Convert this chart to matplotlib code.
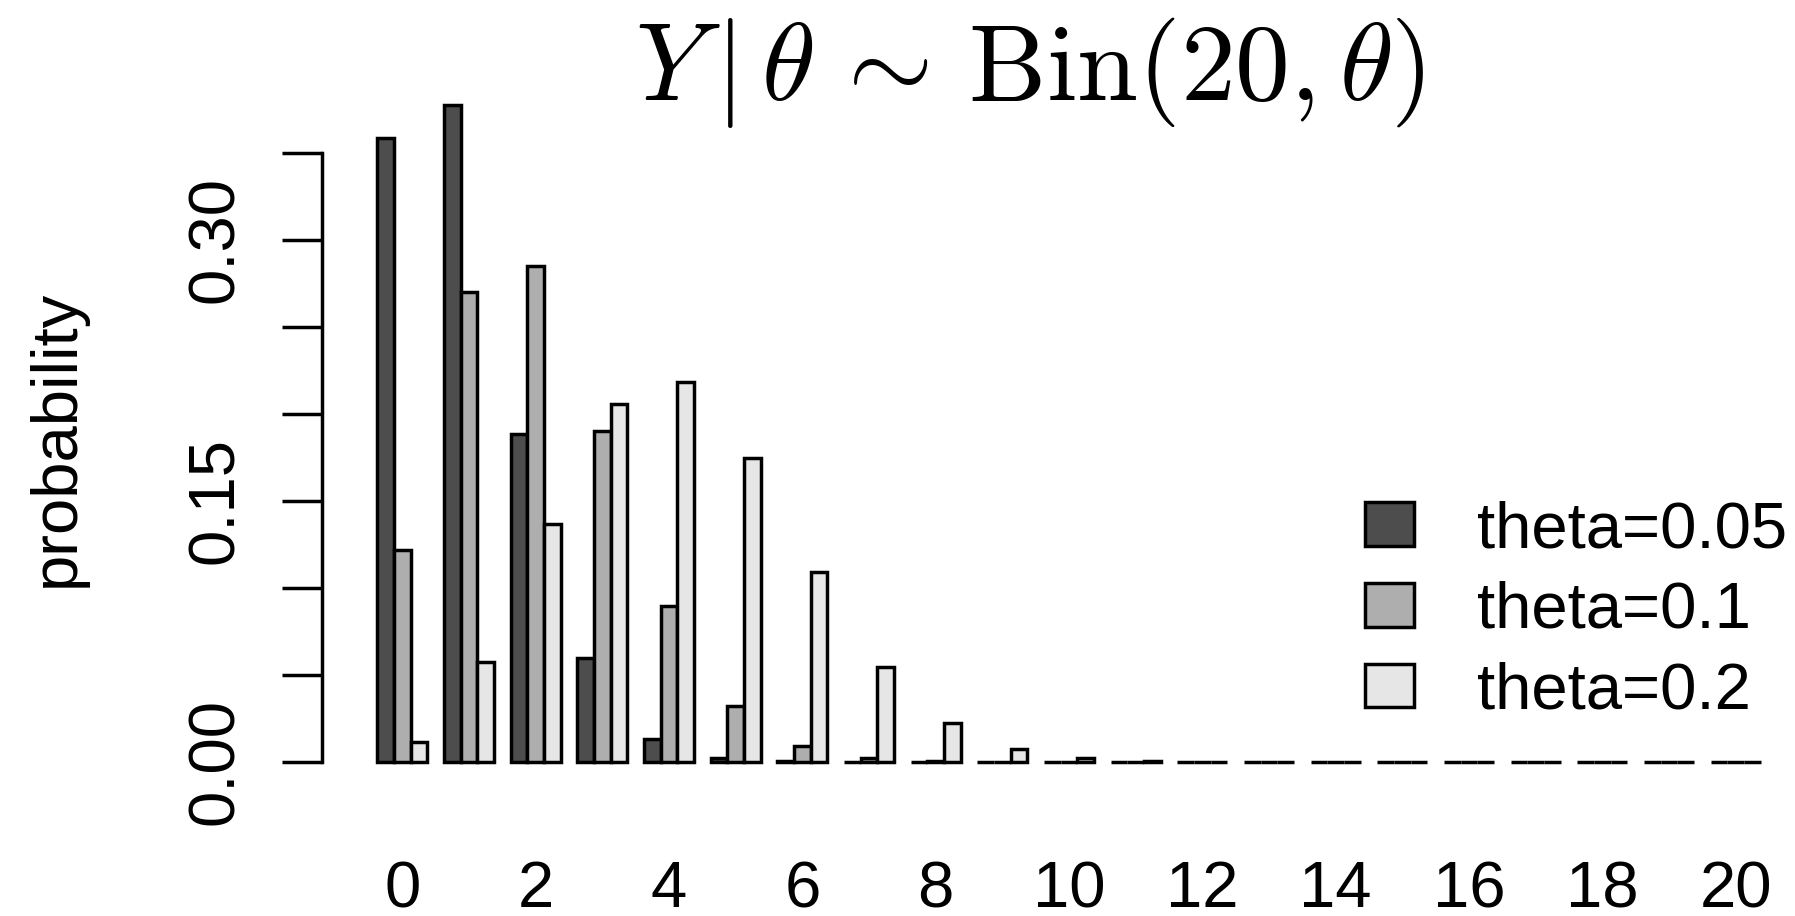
import matplotlib.pyplot as plt
from matplotlib.patches import Patch

plt.rcParams['font.family'] = ['Liberation Sans', 'DejaVu Sans']
plt.rcParams['mathtext.fontset'] = 'cm'

# P(Y = y | theta) for y = 0..20
y_values = list(range(21))
series_labels = ["theta=0.05", "theta=0.1", "theta=0.2"]
prob_005 = [0.3585, 0.3774, 0.1887, 0.0596, 0.0133, 0.0022, 0.0003, 0.0, 0.0, 0.0,
            0.0, 0.0, 0.0, 0.0, 0.0, 0.0, 0.0, 0.0, 0.0, 0.0, 0.0]
prob_01 = [0.1216, 0.2702, 0.2852, 0.1901, 0.0898, 0.0319, 0.0089, 0.0020, 0.0004, 0.0001,
           0.0, 0.0, 0.0, 0.0, 0.0, 0.0, 0.0, 0.0, 0.0, 0.0, 0.0]
prob_02 = [0.0115, 0.0576, 0.1369, 0.2054, 0.2182, 0.1746, 0.1091, 0.0545, 0.0222, 0.0074,
           0.0020, 0.0005, 0.0001, 0.0, 0.0, 0.0, 0.0, 0.0, 0.0, 0.0, 0.0]
bar_colors = ["#4D4D4D", "#AEAEAE", "#E6E6E6"]

y_ticks = [0.0, 0.05, 0.10, 0.15, 0.20, 0.25, 0.30, 0.35]
y_tick_labels = ["0.00", "", "", "0.15", "", "", "0.30", ""]
x_label_every = 2

FS = 47
LW = 2.5
W, H = 1795, 916

fig = plt.figure(figsize=(W / 100, H / 100), dpi=100)
# barplot(beside=TRUE) layout: bars of width 1, one empty unit between groups
ax = fig.add_axes([322 / W, 128 / H, (1816 - 322) / W, (788 - 79) / H])

series = [prob_005, prob_01, prob_02]
n_series = len(series)
group_left = [1 + (n_series + 1) * i for i in range(len(y_values))]
for k, (vals, col, lab) in enumerate(zip(series, bar_colors, series_labels)):
    xs = [g + k + 0.5 for g in group_left]
    ax.bar(xs, vals, width=1.0, color=col, edgecolor="black", linewidth=LW,
           label=lab, clip_on=False)

# R-style 4% padding of the data range
x_lo, x_hi = group_left[0], group_left[-1] + n_series
pad_x = 0.04 * (x_hi - x_lo)
ax.set_xlim(x_lo - pad_x, x_hi + pad_x)
y_max = max(max(s) for s in series)
ax.set_ylim(-0.04 * y_max, 1.04 * y_max)

for side in ["top", "right", "bottom"]:
    ax.spines[side].set_visible(False)
ax.spines["left"].set_linewidth(LW)
ax.spines["left"].set_bounds(y_ticks[0], y_ticks[-1])

ax.set_yticks(y_ticks)
ax.set_yticklabels(y_tick_labels, rotation=90, va="center")
ax.tick_params(axis="y", length=29, width=LW, labelsize=FS, pad=26)

centers = [g + n_series / 2 for g in group_left]
ax.set_xticks(centers[::x_label_every])
ax.set_xticklabels([str(v) for v in y_values[::x_label_every]])
ax.tick_params(axis="x", length=0, labelsize=FS, pad=52)

fig.text(57 / W, 1 - 438 / H, "probability", rotation=90, ha="center", va="center",
         fontsize=FS)
fig.text(1030 / W, 1 - 100 / H, r"$Y\,|\,\theta\,\sim\,\mathrm{Bin}(20,\theta)$",
         ha="center", va="baseline", fontsize=79)

handles = [Patch(facecolor=c, edgecolor="black", linewidth=LW) for c in bar_colors]
fig.legend(handles, series_labels, loc="upper left",
           bbox_to_anchor=(1365 / W, 1 - 500 / H), bbox_transform=fig.transFigure,
           frameon=False, fontsize=FS, borderpad=0, borderaxespad=0,
           handlelength=0.75, handleheight=0.64, handletextpad=0.96,
           labelspacing=0.32)

fig.savefig("out.png", dpi=100)
